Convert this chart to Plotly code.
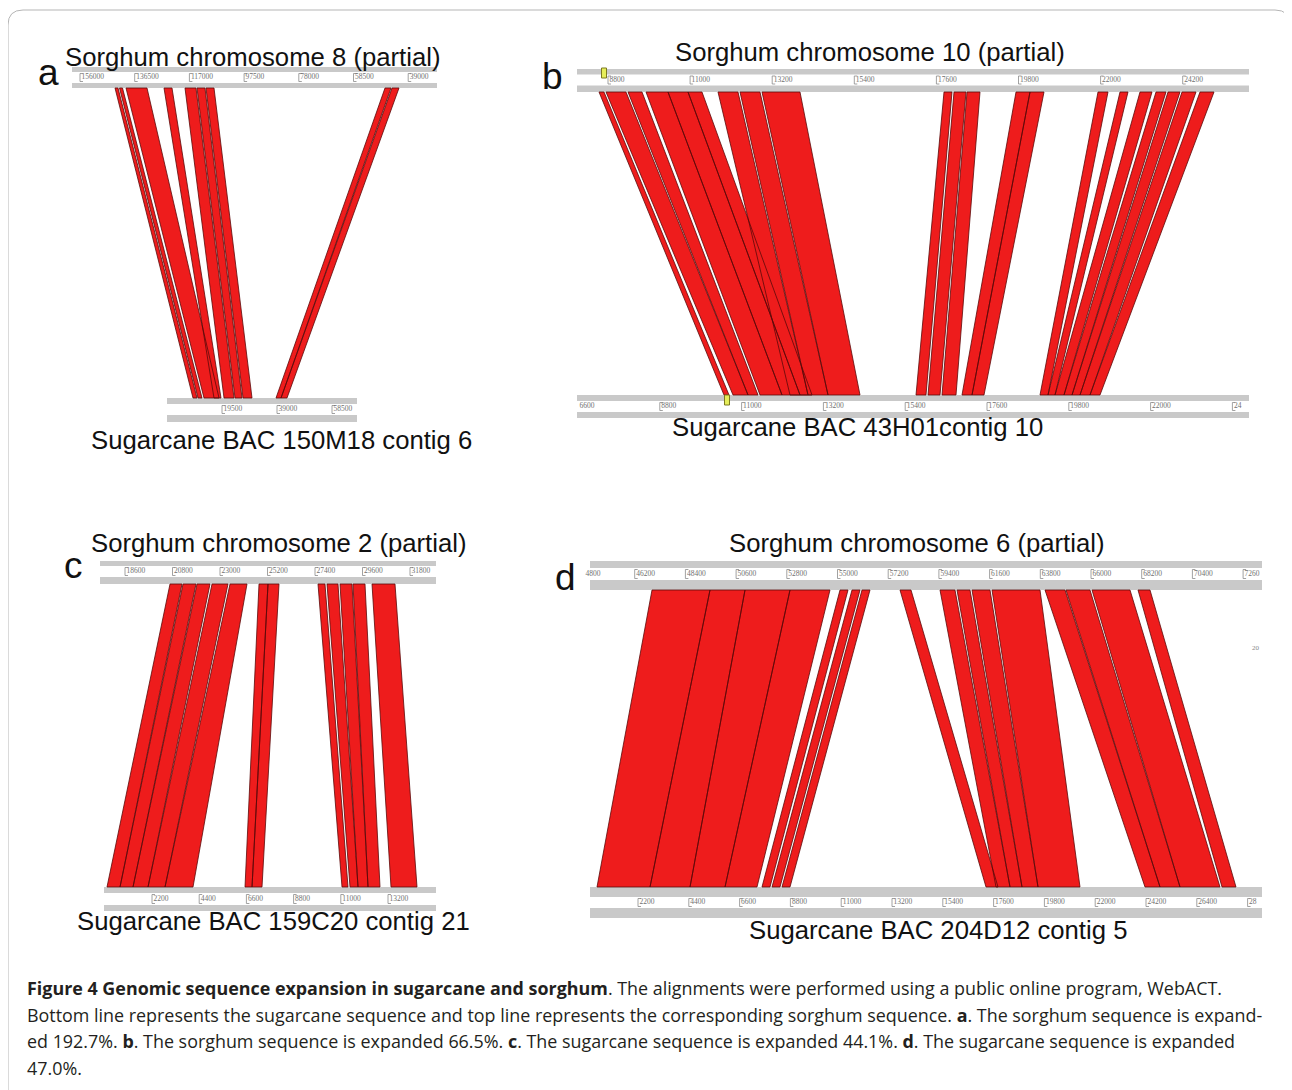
import plotly.graph_objects as go

# ---------------- DATA ----------------
# tick labels of each ruler
a_top_labels = ["156000", "136500", "117000", "97500", "78000", "58500", "39000"]
a_bot_labels = ["19500", "39000", "58500"]
b_top_labels = ["8800", "11000", "13200", "15400", "17600", "19800", "22000", "24200"]
b_bot_labels = ["6600", "8800", "11000", "13200", "15400", "17600", "19800", "22000", "24"]
c_top_labels = ["18600", "20800", "23000", "25200", "27400", "29600", "31800"]
c_bot_labels = ["2200", "4400", "6600", "8800", "11000", "13200"]
d_top_labels = ["4800", "46200", "48400", "50600", "52800", "55000", "57200", "59400",
                "61600", "63800", "66000", "68200", "70400", "7260"]
d_bot_labels = ["2200", "4400", "6600", "8800", "11000", "13200", "15400", "17600",
                "19800", "22000", "24200", "26400", "28"]

# alignment bands: edge positions on the top ruler and on the bottom ruler
a_top_left = [115, 119.5, 126, 164, 185, 197, 206, 385, 392]
a_top_right = [118, 122.5, 147, 172, 196, 205, 214, 391, 399]
a_bot_left = [193, 198, 204, 214, 224, 235, 243, 276, 281]
a_bot_right = [197, 202, 219, 221, 234, 242, 252, 281, 287]

b_top_left = [599, 606, 628, 646, 668, 688, 718, 740, 762, 944, 954, 967, 1016, 1030,
              1098, 1120, 1140, 1156, 1168, 1182, 1200]
b_top_right = [604, 626, 642, 668, 688, 702, 738, 760, 800, 952, 966, 980, 1030, 1044,
               1108, 1128, 1152, 1166, 1180, 1196, 1214]
b_bot_left = [724, 733, 748, 760, 782, 800, 790, 808, 828, 916, 928, 942, 962, 972,
              1040, 1048, 1055, 1064, 1072, 1080, 1090]
b_bot_right = [729, 748, 758, 782, 800, 812, 808, 828, 860, 926, 940, 956, 972, 984,
               1048, 1055, 1064, 1072, 1080, 1090, 1100]

c_top_left = [170, 183, 197, 212, 230, 259, 268, 318, 327, 340, 353, 372]
c_top_right = [182, 196, 210, 228, 247, 268, 279, 325, 338, 352, 365, 395]
c_bot_left = [107, 120, 133, 148, 165, 245, 252, 342, 350, 358, 368, 391]
c_bot_right = [120, 133, 148, 165, 193, 252, 262, 348, 358, 368, 380, 417]

d_top_left = [652, 710, 745, 790, 840, 852, 862, 900, 940, 957, 972, 992, 1045, 1066, 1092, 1138]
d_top_right = [710, 745, 790, 830, 848, 860, 870, 911, 955, 970, 990, 1040, 1065, 1090, 1130, 1150]
d_bot_left = [597, 650, 690, 725, 762, 772, 782, 986, 996, 1010, 1022, 1038, 1145, 1160, 1180, 1222]
d_bot_right = [650, 690, 725, 757, 770, 780, 790, 998, 1010, 1022, 1038, 1080, 1160, 1180, 1220, 1236]

titles_top = ["Sorghum chromosome 8 (partial)", "Sorghum chromosome 10 (partial)",
              "Sorghum chromosome 2 (partial)", "Sorghum chromosome 6 (partial)"]
titles_bot = ["Sugarcane BAC 150M18 contig 6", "Sugarcane BAC 43H01contig 10",
              "Sugarcane BAC 159C20 contig 21", "Sugarcane BAC 204D12 contig 5"]
panel_letters = ["a", "b", "c", "d"]

caption_lines = [
    "<b>Figure 4 Genomic sequence expansion in sugarcane and sorghum</b>. The alignments were performed using a public online program, WebACT.",
    "Bottom line represents the sugarcane sequence and top line represents the corresponding sorghum sequence. <b>a</b>. The sorghum sequence is expand-",
    "ed 192.7%. <b>b</b>. The sorghum sequence is expanded 66.5%. <b>c</b>. The sugarcane sequence is expanded 44.1%. <b>d</b>. The sugarcane sequence is expanded",
    "47.0%.",
]

# ---------------- LAYOUT GEOMETRY ----------------
RULERS = {
    "a_top": dict(x0=72, x1=437, y0=67, y1=88, w0=72, w1=83, t0=80, dt=54.7),
    "a_bot": dict(x0=167, x1=357, y0=398, y1=422, w0=404, w1=415, t0=222, dt=55),
    "b_top": dict(x0=577, x1=1249, y0=69, y1=92, w0=74.5, w1=85.5, t0=608, dt=82.1),
    "b_bot": dict(x0=577, x1=1249, y0=395, y1=418, w0=401, w1=412, t0=578, dt=81.8),
    "c_top": dict(x0=100, x1=436, y0=561, y1=584, w0=566, w1=577, t0=125, dt=47.5),
    "c_bot": dict(x0=104, x1=436, y0=887, y1=911, w0=893, w1=905, t0=152, dt=47.2),
    "d_top": dict(x0=590, x1=1262, y0=561, y1=590, w0=568, w1=580, t0=584, dt=50.7),
    "d_bot": dict(x0=590, x1=1262, y0=887, y1=918, w0=897, w1=908, t0=638, dt=50.8),
}
LABELS = {"a_top": a_top_labels, "a_bot": a_bot_labels, "b_top": b_top_labels,
          "b_bot": b_bot_labels, "c_top": c_top_labels, "c_bot": c_bot_labels,
          "d_top": d_top_labels, "d_bot": d_bot_labels}
BANDS = {
    "a": (a_top_left, a_top_right, a_bot_left, a_bot_right),
    "b": (b_top_left, b_top_right, b_bot_left, b_bot_right),
    "c": (c_top_left, c_top_right, c_bot_left, c_bot_right),
    "d": (d_top_left, d_top_right, d_bot_left, d_bot_right),
}
TITLE_POS_TOP = [(252, 57), (870, 52), (278, 543), (916, 543)]
TITLE_POS_BOT = [(281, 440), (857, 427), (273, 921), (938, 930)]
LETTER_POS = [(48, 72), (552, 76), (73, 565), (565, 577)]
CAPTION_Y = [988, 1015, 1041, 1068]

W, H = 1292, 1090
OFF = 8  # the page body has an 8px margin; shift the coordinate frame to compensate
fig = go.Figure()
shapes = []
annotations = []

# outer rounded frame
shapes.append(dict(type="path", xref="x", yref="y",
                   path="M 23 10 L 1275 10 Q 1290 10 1290 25 L 1290 1110 L 8 1110 L 8 25 Q 8 10 23 10 Z",
                   line=dict(color="#b5b5b5", width=1)))

# rulers
for key, r in RULERS.items():
    shapes.append(dict(type="rect", xref="x", yref="y", x0=r["x0"], x1=r["x1"], y0=r["y0"], y1=r["y1"],
                       fillcolor="#c9c9c9", line=dict(width=0), layer="below"))
    shapes.append(dict(type="rect", xref="x", yref="y", x0=r["x0"], x1=r["x1"], y0=r["w0"], y1=r["w1"],
                       fillcolor="#ffffff", line=dict(width=0), layer="below"))
    labs = LABELS[key]
    tx = [r["t0"] + i * r["dt"] for i in range(len(labs))]
    bx, by = [], []
    for x in tx:
        if x > r["x0"] + 2:
            bx += [x + 3, x, x, x + 3, None]
            by += [r["w0"] + 1.5, r["w0"] + 1.5, r["w1"] - 1.5, r["w1"] - 1.5, None]
    fig.add_trace(go.Scatter(x=bx, y=by, mode="lines", line=dict(color="#8a8a8a", width=0.8),
                             hoverinfo="skip", showlegend=False))
    fig.add_trace(go.Scatter(x=[x + 1.5 for x in tx], y=[(r["w0"] + r["w1"]) / 2] * len(tx),
                             mode="text", text=labs, textposition="middle right",
                             textfont=dict(family="Liberation Serif", size=7.5, color="#707070"),
                             cliponaxis=True, hoverinfo="skip", showlegend=False))

# alignment bands
for p in ["a", "b", "c", "d"]:
    tl, tr, bl, br = BANDS[p]
    ytop = RULERS[p + "_top"]["y1"]
    ybot = RULERS[p + "_bot"]["y0"]
    xs, ys = [], []
    for i in range(len(tl)):
        xs += [tl[i], tr[i], br[i], bl[i], tl[i], None]
        ys += [ytop, ytop, ybot, ybot, ytop, None]
    fig.add_trace(go.Scatter(x=xs, y=ys, mode="lines", fill="toself",
                             fillcolor="rgb(238,28,28)",
                             line=dict(color="rgb(90,10,10)", width=0.8),
                             hoverinfo="skip", showlegend=False))

# yellow markers on panel b
for (mx, my0, my1) in [(604, 68, 78), (727, 395, 405)]:
    shapes.append(dict(type="rect", xref="x", yref="y", x0=mx - 2.5, x1=mx + 2.5, y0=my0, y1=my1,
                       fillcolor="#e6ee5a", line=dict(color="#7c7a20", width=1)))

# titles and letters
for i in range(4):
    annotations.append(dict(x=TITLE_POS_TOP[i][0], y=TITLE_POS_TOP[i][1], text=titles_top[i],
                            showarrow=False, xref="x", yref="y",
                            font=dict(family="Liberation Sans", size=25.7, color="#111")))
    annotations.append(dict(x=TITLE_POS_BOT[i][0], y=TITLE_POS_BOT[i][1], text=titles_bot[i],
                            showarrow=False, xref="x", yref="y",
                            font=dict(family="Liberation Sans", size=25.7, color="#111")))
    annotations.append(dict(x=LETTER_POS[i][0], y=LETTER_POS[i][1], text=panel_letters[i],
                            showarrow=False, xref="x", yref="y",
                            font=dict(family="Liberation Sans", size=37, color="#111")))

annotations.append(dict(x=1256, y=648, text="20", showarrow=False, xref="x", yref="y",
                        font=dict(family="Liberation Serif", size=7, color="#888")))

# caption
for i, line in enumerate(caption_lines):
    annotations.append(dict(x=25, y=CAPTION_Y[i], text=line, showarrow=False, xref="x", yref="y",
                            xanchor="left", yanchor="middle",
                            font=dict(family="Open Sans", size=17.9, color="#231f20")))

fig.update_layout(
    width=W, height=H, margin=dict(l=0, r=0, t=0, b=0),
    paper_bgcolor="white", plot_bgcolor="white",
    xaxis=dict(range=[OFF, W + OFF], visible=False, fixedrange=True),
    yaxis=dict(range=[H + OFF, OFF], visible=False, fixedrange=True),
    shapes=shapes, annotations=annotations, showlegend=False,
)
fig.write_html("out.html")
